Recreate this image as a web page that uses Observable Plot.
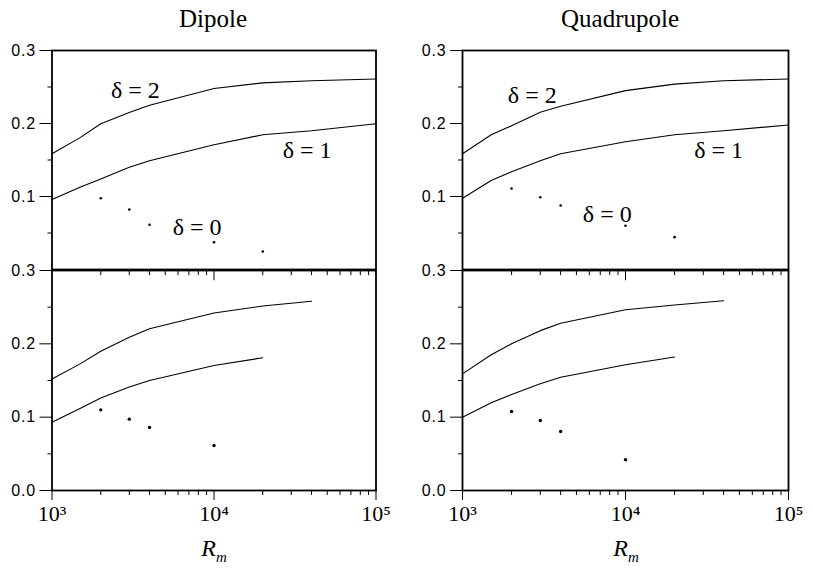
<!DOCTYPE html>
<html><head><meta charset="utf-8">
<script src="https://cdn.jsdelivr.net/npm/d3@7"></script>
<script src="https://cdn.jsdelivr.net/npm/@observablehq/plot@0.6"></script>
<style>
body{margin:0;background:#fff}
#c{position:relative;width:813px;height:572px;background:#fff;overflow:hidden}
.p{position:absolute}
.t{position:absolute;font-family:"Liberation Serif",serif;font-size:25px;line-height:1;transform:translateX(-50%);white-space:nowrap;color:#000}
.r{position:absolute;font-family:"Liberation Serif",serif;font-size:24px;line-height:1;font-style:italic;transform:translateX(-50%);white-space:nowrap;color:#000}
.r sub{font-size:15px}
[aria-label="y-axis tick label"] text{letter-spacing:0.8px}
</style></head><body><div id="c"></div><script>
// ---- data ----
const titles = ["Dipole", "Quadrupole"];
const xLabel = "R";
const xSub = "m";
const yTicksTop = [0.1, 0.2, 0.3];
const yTicksBottom = [0.0, 0.1, 0.2, 0.3];
const yMinor = [0.05, 0.15, 0.25];
const xMajor = [1e3, 1e4, 1e5];
const xMinor = [2e3,3e3,4e3,5e3,6e3,7e3,8e3,9e3,2e4,3e4,4e4,5e4,6e4,7e4,8e4,9e4];

// Rm values for curves
const rmFull = [1000, 1500, 2000, 3000, 4000, 10000, 20000, 40000, 100000];
const rmTo40k = [1000, 1500, 2000, 3000, 4000, 10000, 20000, 40000];
const rmTo20k = [1000, 1500, 2000, 3000, 4000, 10000, 20000];
const rmDotsTop = [2000, 3000, 4000, 10000, 20000];
const rmDotsBottom = [2000, 3000, 4000, 10000];

// Dipole, top
const dipTopD2 = [0.1585, 0.181, 0.1996, 0.215, 0.225, 0.248, 0.2557, 0.2585, 0.261];
const dipTopD1 = [0.0959, 0.113, 0.124, 0.140, 0.149, 0.171, 0.1845, 0.190, 0.1996];
const dipTopD0 = [0.0977, 0.0822, 0.0612, 0.0374, 0.0247];
// Dipole, bottom
const dipBotD2 = [0.152, 0.173, 0.190, 0.209, 0.2205, 0.242, 0.2515, 0.258];
const dipBotD1 = [0.093, 0.112, 0.126, 0.141, 0.150, 0.1705, 0.181];
const dipBotD0 = [0.110, 0.0973, 0.086, 0.0614];
// Quadrupole, top
const quaTopD2 = [0.1585, 0.1845, 0.197, 0.2155, 0.2237, 0.245, 0.254, 0.2585, 0.261];
const quaTopD1 = [0.0977, 0.122, 0.134, 0.149, 0.1585, 0.175, 0.1845, 0.190, 0.198];
const quaTopD0 = [0.111, 0.099, 0.0877, 0.060, 0.0443];
// Quadrupole, bottom
const quaBotD2 = [0.159, 0.185, 0.200, 0.218, 0.228, 0.2465, 0.253, 0.2587];
const quaBotD1 = [0.100, 0.1196, 0.131, 0.1455, 0.1545, 0.1715, 0.182];
const quaBotD0 = [0.1077, 0.0955, 0.0805, 0.042];

// curve labels (text, Rm, value)
const labelText = ["δ = 2", "δ = 1", "δ = 0"];
const dipLabelX = [3270, 37600, 7870];
const dipLabelY = [0.245, 0.163, 0.058];
const quaLabelX = [2680, 37300, 7730];
const quaLabelY = [0.238, 0.163, 0.076];

// ---- drawing ----
const sup = {3: "³", 4: "⁴", 5: "⁵"};
const rows = (xs, ys) => xs.map((x, i) => ({x, y: ys[i]}));
const c = document.getElementById("c");

function panel(o) {
  const marks = [
    Plot.line(rows(o.x2, o.y2), {x: "x", y: "y", stroke: "#000", strokeWidth: 1.1}),
    Plot.line(rows(o.x1, o.y1), {x: "x", y: "y", stroke: "#000", strokeWidth: 1.1}),
    Plot.dot(rows(o.x0, o.y0), {x: "x", y: "y", r: o.r, fill: "#000", stroke: null}),
    Plot.axisY(o.yTicks, {tickSize: 12, tickPadding: 4, tickFormat: d3.format(".1f"), fontSize: 16,
      fontFamily: "Liberation Sans, Arial, sans-serif", fill: "#000", label: null}),
    Plot.axisY(yMinor, {tickSize: 4, tickFormat: () => "", label: null})
  ];
  if (o.labels) {
    marks.push(Plot.text(o.labels.t.map((t, i) => ({t, x: o.labels.x[i], y: o.labels.y[i]})),
      {x: "x", y: "y", text: "t", fontSize: 24, fontFamily: "Liberation Serif, serif", fill: "#000"}));
  }
  if (o.bottom) {
    marks.push(
      Plot.axisX(xMajor, {tickSize: 10, tickPadding: 5, tickFormat: d => "10" + sup[Math.round(Math.log10(d))],
        fontSize: 22, fontFamily: "Liberation Serif, serif", fill: "#000", label: null}),
      Plot.axisX(xMinor, {tickSize: 5, tickFormat: () => "", label: null}),
      Plot.ruleX(xMinor, {y1: 0.3, y2: 0.293, stroke: "#000"}),
      Plot.ruleX([1e4], {y1: 0.3, y2: 0.286, stroke: "#000"})
    );
  }
  marks.push(Plot.frame({stroke: "#000", strokeWidth: 1.8}));
  const svg = Plot.plot({
    width: 400, height: o.height,
    marginLeft: o.ml, marginRight: o.mr, marginTop: 10, marginBottom: o.mb,
    x: {type: "log", domain: [1e3, 1e5], axis: null},
    y: {domain: [0, 0.3], axis: null},
    style: {background: "transparent", overflow: "visible", color: "#000"},
    marks
  });
  svg.classList.add("p");
  svg.style.left = o.left + "px";
  svg.style.top = o.top + "px";
  c.appendChild(svg);
}

panel({left: 0, top: 40, height: 240, ml: 51.5, mr: 24.5, mb: 11, r: 1.3,
  x2: rmFull, y2: dipTopD2, x1: rmFull, y1: dipTopD1, x0: rmDotsTop, y0: dipTopD0,
  yTicks: yTicksTop, labels: {t: labelText, x: dipLabelX, y: dipLabelY}});
panel({left: 0, top: 260, height: 280, ml: 51.5, mr: 24.5, mb: 50, r: 1.7, bottom: true,
  x2: rmTo40k, y2: dipBotD2, x1: rmTo20k, y1: dipBotD1, x0: rmDotsBottom, y0: dipBotD0,
  yTicks: yTicksBottom});
panel({left: 410, top: 40, height: 240, ml: 52, mr: 22, mb: 11, r: 1.3,
  x2: rmFull, y2: quaTopD2, x1: rmFull, y1: quaTopD1, x0: rmDotsTop, y0: quaTopD0,
  yTicks: yTicksTop, labels: {t: labelText, x: quaLabelX, y: quaLabelY}});
panel({left: 410, top: 260, height: 280, ml: 52, mr: 22, mb: 50, r: 1.7, bottom: true,
  x2: rmTo40k, y2: quaBotD2, x1: rmTo20k, y1: quaBotD1, x0: rmDotsBottom, y0: quaBotD0,
  yTicks: yTicksBottom});

// titles and x labels
[[213, titles[0]], [620, titles[1]]].forEach(([x, t]) => {
  const d = document.createElement("div");
  d.className = "t"; d.textContent = t;
  d.style.left = x + "px"; d.style.top = "6px";
  c.appendChild(d);
});
[214, 626].forEach(x => {
  const d = document.createElement("div");
  d.className = "r";
  d.innerHTML = xLabel + "<sub>" + xSub + "</sub>";
  d.style.left = x + "px"; d.style.top = "536px";
  c.appendChild(d);
});
</script></body></html>
